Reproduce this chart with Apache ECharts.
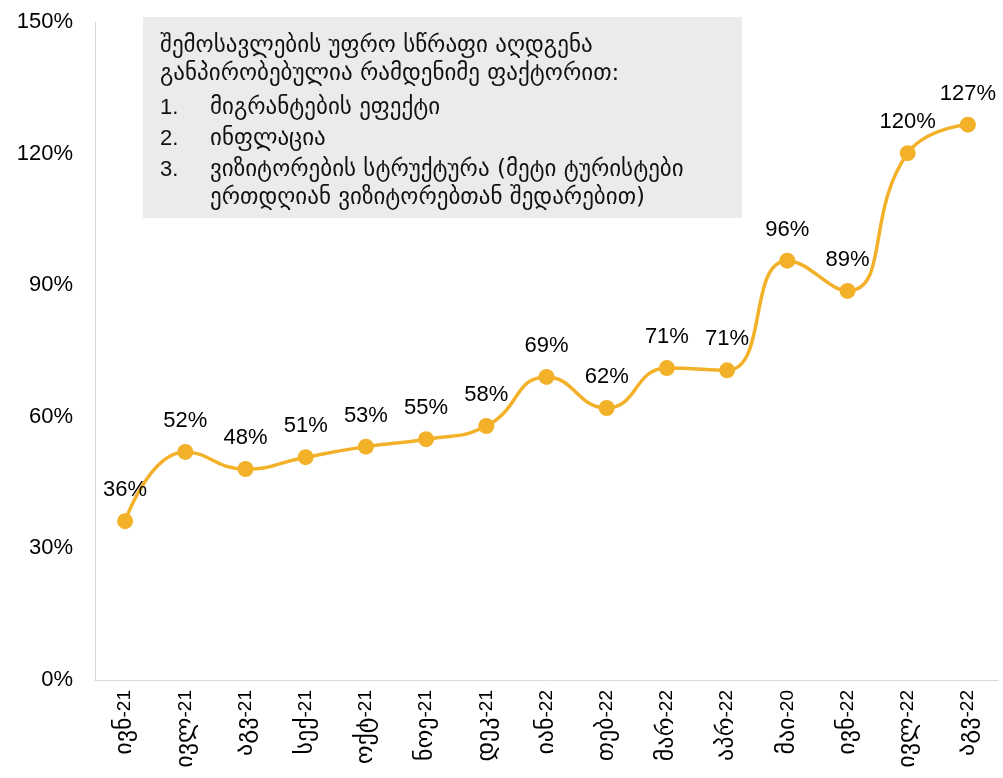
<!DOCTYPE html>
<html>
<head>
<meta charset="utf-8">
<script src="https://cdn.jsdelivr.net/npm/echarts@6/dist/echarts.min.js"></script>
<style>
  html, body { margin: 0; padding: 0; background: #fff; }
  #chart { width: 1003px; height: 778px; }
</style>
</head>
<body>
<div id="chart"></div>
<script>
var months = ['ივნ-21', 'ივლ-21', 'აგვ-21', 'სექ-21', 'ოქტ-21', 'ნოე-21', 'დეკ-21',
    'იან-22', 'თებ-22', 'მარ-22', 'აპრ-22', 'მაი-20', 'ივნ-22', 'ივლ-22', 'აგვ-22'];
// values (labels show them rounded)
var growth = [36.2, 52, 48.1, 50.8, 53.2, 54.9, 57.9, 69.1, 62, 71.1, 70.6, 95.6, 88.7, 120.1, 126.6];
var yTicks = [0, 30, 60, 90, 120, 150];

var noteHead = ['შემოსავლების უფრო სწრაფი აღდგენა', 'განპირობებულია რამდენიმე ფაქტორით:'];
var noteItems = ['მიგრანტების ეფექტი', 'ინფლაცია', 'ვიზიტორების სტრუქტურა (მეტი ტურისტები', 'ერთდღიან ვიზიტორებთან შედარებით)'];
var noteNums = ['1.', '2.', '3.', ''];

var fontMain = 'Liberation Sans';
var fontGeo = 'DejaVu Sans';

var myChart = echarts.init(document.getElementById('chart'));

// grey note box in the top-left
var boxParts = [{
    type: 'rect',
    shape: { x: 143, y: 17, width: 599, height: 201 },
    style: { fill: '#ebebed' }
}];
var headY = [46, 74];
noteHead.forEach(function (t, i) {
    boxParts.push({
        type: 'text', x: 160, y: headY[i],
        style: { text: t, fontSize: 23, fontFamily: fontGeo, fill: '#111', verticalAlign: 'middle' }
    });
});
var itemY = [108, 139, 170, 198];
noteItems.forEach(function (t, i) {
    if (noteNums[i]) {
        boxParts.push({
            type: 'text', x: 160, y: itemY[i],
            style: { text: noteNums[i], fontSize: 22, fontFamily: fontMain, fill: '#111', verticalAlign: 'middle' }
        });
    }
    boxParts.push({
        type: 'text', x: 210, y: itemY[i],
        style: { text: t, fontSize: 23, fontFamily: fontGeo, fill: '#111', verticalAlign: 'middle' }
    });
});

var option = {
    backgroundColor: '#fff',
    animation: false,
    grid: {
        left: 95,
        right: 5,
        top: 22,
        bottom: 98
    },
    xAxis: {
        type: 'category',
        data: months,
        boundaryGap: true,
        axisLine: { lineStyle: { color: '#d9d9d9', width: 1 } },
        axisTick: { show: false },
        axisLabel: {
            rotate: 90,
            interval: 0,
            margin: 10,
            color: '#000',
            formatter: function (v) {
                var p = v.split('-');
                return '{g|' + p[0] + '}{n|-' + p[1] + '}';
            },
            rich: {
                g: { fontSize: 24, fontFamily: fontGeo, color: '#000' },
                n: { fontSize: 19, fontFamily: fontMain, color: '#000' }
            }
        }
    },
    yAxis: {
        type: 'value',
        min: yTicks[0],
        max: yTicks[yTicks.length - 1],
        interval: 30,
        axisLine: { show: true, lineStyle: { color: '#d9d9d9', width: 1 } },
        axisTick: { show: false },
        splitLine: { show: false },
        axisLabel: {
            margin: 22,
            color: '#000',
            fontSize: 22,
            fontFamily: fontMain,
            formatter: '{value}%'
        }
    },
    series: [{
        type: 'line',
        data: growth,
        smooth: 0.5,
        symbol: 'circle',
        symbolSize: 16,
        lineStyle: { color: '#f3b12a', width: 3.5 },
        itemStyle: { color: '#f3b12a' },
        label: {
            show: true,
            position: 'top',
            distance: 12,
            color: '#000',
            fontSize: 22,
            fontFamily: fontMain,
            formatter: function (p) { return Math.round(p.value) + '%'; }
        }
    }],
    graphic: boxParts
};

myChart.setOption(option, true);
</script>
</body>
</html>
